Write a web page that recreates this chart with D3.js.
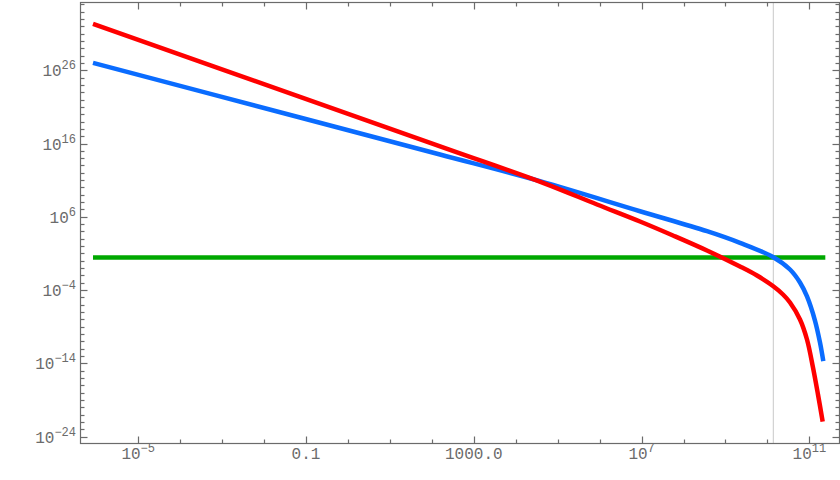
<!DOCTYPE html>
<html>
<head>
<meta charset="utf-8">
<script src="https://cdn.jsdelivr.net/npm/d3@7"></script>
<style>
  html, body { margin: 0; padding: 0; background: #fff; }
  svg { display: block; }
  text { font-family: "Liberation Mono", "DejaVu Sans Mono", monospace; fill: #6b6b6b; }
</style>
</head>
<body>
<svg id="chart" width="840" height="480"></svg>
<script>
// ---- data (log10 of values) ----
const redLogX  = [-6.077, -1.143, 2.433, 4.650, 5.937, 6.962, 7.749, 8.559, 9.346, 9.751, 10.132, 10.371, 10.538, 10.776, 10.943, 11.086, 11.205, 11.317];
const redLogY  = [32.33, 22.36, 15.14, 10.64, 7.68, 5.36, 3.45, 1.40, -0.78, -2.01, -3.44, -4.60, -5.69, -8.01, -10.74, -14.56, -18.24, -21.93];
const blueLogX = [-6.077, -1.143, 2.194, 4.578, 6.962, 8.559, 9.346, 10.132, 10.538, 10.776, 10.943, 11.133, 11.253, 11.332];
const blueLogY = [27.01, 19.55, 14.50, 10.86, 6.76, 4.04, 2.45, 0.52, -1.19, -2.96, -4.87, -8.15, -11.15, -13.70];
const greenLogX = [-6.077, 11.38];
const greenLogY = [0.46, 0.46];
const markerLogX = 10.14;

const xMajorExp = [-5, -1, 3, 7, 11];
const xMajorLabels = [["10", "-5"], ["0.1", ""], ["1000.0", ""], ["10", "7"], ["10", "11"]];
const yMajorExp = [26, 16, 6, -4, -14, -24];
const xMinorExpRange = [-5, 11];
const yMinorExpRange = [-24, 35];

// ---- layout ----
const L = 80.5, R = 839.5, T = 2.5, B = 443.5;
const svg = d3.select("#chart");
const x = d3.scaleLog().domain([Math.pow(10, -6.387), Math.pow(10, 11.706)]).range([80, 839]);
const y = d3.scaleLog().domain([Math.pow(10, -24.86), Math.pow(10, 35.17)]).range([443, 3]);
const axisColor = "#6b6b6b";

// gray vertical marker line
svg.append("line")
  .attr("x1", x(Math.pow(10, markerLogX))).attr("x2", x(Math.pow(10, markerLogX)))
  .attr("y1", T).attr("y2", B)
  .attr("stroke", "#c8c8c8").attr("stroke-width", 1);

// curves
const line = d3.line().x(d => x(d[0])).y(d => y(d[1])).curve(d3.curveCatmullRom.alpha(0.5));
function series(lx, ly) { return lx.map((v, i) => [Math.pow(10, v), Math.pow(10, ly[i])]); }

svg.append("path").datum(series(greenLogX, greenLogY)).attr("d", line)
  .attr("fill", "none").attr("stroke", "#00a800").attr("stroke-width", 4.5);
svg.append("path").datum(series(blueLogX, blueLogY)).attr("d", line)
  .attr("fill", "none").attr("stroke", "#0a6cff").attr("stroke-width", 4.5);
svg.append("path").datum(series(redLogX, redLogY)).attr("d", line)
  .attr("fill", "none").attr("stroke", "#ff0000").attr("stroke-width", 4.5);

// frame
svg.append("rect").attr("x", L).attr("y", T).attr("width", R - L).attr("height", B - T)
  .attr("fill", "none").attr("stroke", axisColor).attr("stroke-width", 1.2);

// ticks
const xMinor = d3.range(xMinorExpRange[0], xMinorExpRange[1] + 1).filter(e => !xMajorExp.includes(e));
const yMinor = d3.range(yMinorExpRange[0], yMinorExpRange[1] + 1).filter(e => !yMajorExp.includes(e));

function xTick(e, len) {
  const px = Math.round(x(Math.pow(10, e))) + 0.5;
  svg.append("line").attr("x1", px).attr("x2", px).attr("y1", B).attr("y2", B - len)
    .attr("stroke", axisColor).attr("stroke-width", 1.2);
  svg.append("line").attr("x1", px).attr("x2", px).attr("y1", T).attr("y2", T + len)
    .attr("stroke", axisColor).attr("stroke-width", 1.2);
}
function yTick(e, len) {
  const py = Math.round(y(Math.pow(10, e))) + 0.5;
  svg.append("line").attr("x1", L).attr("x2", L + len).attr("y1", py).attr("y2", py)
    .attr("stroke", axisColor).attr("stroke-width", 1.2);
  svg.append("line").attr("x1", R).attr("x2", R - len).attr("y1", py).attr("y2", py)
    .attr("stroke", axisColor).attr("stroke-width", 1.2);
}
xMajorExp.forEach(e => xTick(e, 7));
xMinor.forEach(e => xTick(e, 4));
yMajorExp.forEach(e => yTick(e, 7));
yMinor.forEach(e => yTick(e, 4));

// x labels
xMajorExp.forEach((e, i) => {
  const [base, sup] = xMajorLabels[i];
  const t = svg.append("text").attr("x", x(Math.pow(10, e))).attr("y", 459)
    .attr("text-anchor", "middle").attr("font-size", 16);
  t.append("tspan").text(base);
  if (sup) t.append("tspan").attr("dy", -7).attr("font-size", 12).text(sup.replace("-", "\u2212"));
});

// y labels
yMajorExp.forEach(e => {
  const t = svg.append("text").attr("x", 76).attr("y", y(Math.pow(10, e)) + 6)
    .attr("text-anchor", "end").attr("font-size", 16);
  t.append("tspan").text("10");
  t.append("tspan").attr("dy", -7).attr("font-size", 12).text(String(e).replace("-", "\u2212"));
});
</script>
</body>
</html>
